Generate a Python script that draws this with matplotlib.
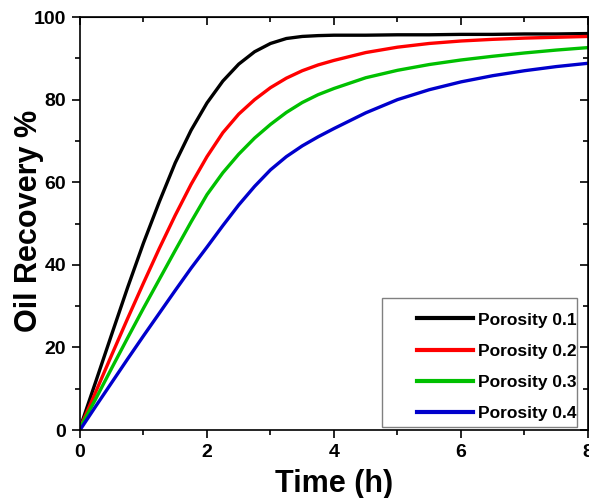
import matplotlib
matplotlib.use('Agg')
import matplotlib.pyplot as plt
from matplotlib.patches import Rectangle

plt.rcParams['font.family'] = ['Liberation Sans', 'DejaVu Sans']
plt.rcParams['font.weight'] = 'bold'

# Time (h) and oil recovery (%)
time_h = [0, 0.25, 0.5, 0.75, 1.0, 1.25, 1.5, 1.75, 2.0, 2.25, 2.5, 2.75,
          3.0, 3.25, 3.5, 3.75, 4.0, 4.5, 5.0, 5.5, 6.0, 6.5, 7.0, 7.5, 8.0]
por_01 = [0.5, 11.8, 23.2, 34.5, 45.3, 55.3, 64.7, 72.6, 79.2, 84.5, 88.6, 91.6,
          93.6, 94.8, 95.3, 95.5, 95.6, 95.6, 95.7, 95.7, 95.8, 95.8, 95.9, 95.9, 96.0]
por_02 = [0.5, 9.3, 18.2, 27.0, 35.6, 44.0, 52.0, 59.5, 66.2, 72.0, 76.5, 80.0,
          82.9, 85.2, 87.0, 88.4, 89.5, 91.4, 92.7, 93.6, 94.2, 94.6, 94.9, 95.1, 95.3]
por_03 = [0.5, 7.6, 15.0, 22.3, 29.5, 36.5, 43.5, 50.4, 57.0, 62.3, 66.8, 70.7,
          74.0, 76.9, 79.3, 81.2, 82.7, 85.3, 87.1, 88.5, 89.6, 90.5, 91.3, 92.0, 92.6]
por_04 = [0.0, 5.8, 11.5, 17.2, 22.8, 28.3, 33.8, 39.2, 44.3, 49.5, 54.5, 59.0,
          63.0, 66.2, 68.8, 71.0, 73.0, 76.8, 80.0, 82.4, 84.3, 85.8, 87.0, 88.0, 88.8]

series = [por_01, por_02, por_03, por_04]
labels = ['Porosity 0.1', 'Porosity 0.2', 'Porosity 0.3', 'Porosity 0.4']
colors = ['#000000', '#ff0000', '#00c000', '#0000cc']

fig = plt.figure(figsize=(5.89, 4.98), dpi=100)
ax = fig.add_axes([0.1358, 0.1365, 0.8625, 0.8293])

for y, lab, c in zip(series, labels, colors):
    ax.plot(time_h, y, color=c, lw=2.4, label=lab)

ax.set_xlim(0, 8)
ax.set_ylim(0, 100)
ax.set_xticks([0, 2, 4, 6, 8])
ax.set_xticks([1, 3, 5, 7], minor=True)
ax.set_yticks([0, 20, 40, 60, 80, 100])
ax.set_yticks([10, 30, 50, 70, 90], minor=True)
ax.tick_params(which='both', direction='out', width=1.2, labelsize=14, pad=4)
ax.tick_params(which='major', length=6)
ax.tick_params(which='minor', length=3.5)
for s in ax.spines.values():
    s.set_linewidth(1.2)

# inward ticks on top and right
top = ax.secondary_xaxis('top')
top.set_xticks([0, 2, 4, 6, 8])
top.set_xticks([1, 3, 5, 7], minor=True)
top.tick_params(which='both', direction='in', width=1.2, labeltop=False)
top.tick_params(which='major', length=6)
top.tick_params(which='minor', length=3.5)
right = ax.secondary_yaxis('right')
right.set_yticks([0, 20, 40, 60, 80, 100])
right.set_yticks([10, 30, 50, 70, 90], minor=True)
right.tick_params(which='both', direction='in', width=1.2, labelright=False)
right.tick_params(which='major', length=6)
right.tick_params(which='minor', length=3.5)

ax.set_xlabel('Time (h)', fontsize=22, fontweight='bold', va='center')
ax.set_ylabel('Oil Recovery %', fontsize=22, fontweight='bold', va='center')
ax.xaxis.set_label_coords(0.5, -0.131)
ax.yaxis.set_label_coords(-0.1, 0.506)

ax.add_patch(Rectangle((0.594, 0.007), 0.384, 0.313, transform=ax.transAxes,
                       facecolor='white', edgecolor='#808080', lw=1.0, zorder=4))
leg = ax.legend(loc='lower right', bbox_to_anchor=(0.978, 0.022), frameon=False,
                fontsize=12.5, handlelength=3.2, handletextpad=0.3,
                labelspacing=0.92, borderpad=0, borderaxespad=0)
leg.set_zorder(5)
for line in leg.get_lines():
    line.set_linewidth(3)

fig.savefig('out.png', dpi=100)
